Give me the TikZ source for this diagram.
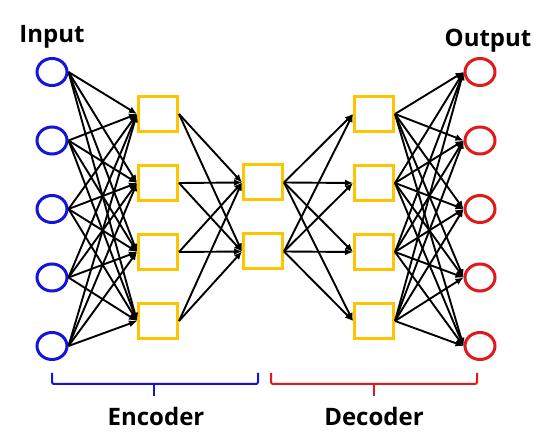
\documentclass[tikz,border=0pt]{standalone}
\usepackage{fontspec}
\setmainfont{Open Sans}
\usetikzlibrary{arrows.meta,shapes.geometric}
\definecolor{inblue}{RGB}{20,20,220}
\definecolor{outred}{RGB}{225,25,25}
\definecolor{hidgold}{RGB}{255,196,0}

\begin{document}
\begin{tikzpicture}[x=1pt,y=-1pt,
  unit/.style={ellipse,draw,line width=3pt,minimum width=30pt,minimum height=27pt,inner sep=0pt},
  hid/.style={rectangle,draw=hidgold,line width=3pt,minimum width=39pt,minimum height=35pt,inner sep=0pt},
  link/.style={-{Latex[length=8pt,width=7pt]},line width=1.9pt},
  lbl/.style={font=\fontsize{24}{28}\selectfont\bfseries,anchor=base,inner sep=0pt}]
  \useasboundingbox (0,0) rectangle (550,438);
  % layers
  \foreach \i/\y in {1/72,2/140.5,3/209,4/277.5,5/346} {
    \node[unit,draw=inblue] (in\i) at (52,\y) {};
    \node[unit,draw=outred] (out\i) at (480,\y) {};
  }
  \foreach \i/\y in {1/114,2/183,3/252,4/321} {
    \node[hid] (enc\i) at (158,\y) {};
    \node[hid] (dec\i) at (374,\y) {};
  }
  \node[hid] (code1) at (263,182.5) {};
  \node[hid] (code2) at (263,251.5) {};
  % connections
  \foreach \a in {1,...,5} \foreach \b in {1,...,4} {
    \draw[link] (in\a.east) -- (enc\b.west);
    \draw[link] (dec\b.east) -- (out\a.west);
  }
  \foreach \a in {1,...,4} \foreach \b in {1,2} {
    \draw[link] (enc\a.east) -- (code\b.west);
    \draw[link] (code\b.east) -- (dec\a.west);
  }
  % labels
  \node[lbl] (inlbl) at (52,43) {Input};
  \node[lbl] (outlbl) at (488,46.5) {Output};
  % braces
  \draw[inblue,line width=2pt,rounded corners=2pt] (52,373) -- (52,384) -- (258,384) -- (258,373);
  \draw[inblue,line width=2pt] (154,384) -- (154,396);
  \draw[outred,line width=2pt,rounded corners=2pt] (271,373) -- (271,384) -- (477,384) -- (477,373);
  \draw[outred,line width=2pt] (374,384) -- (374,396);
  \node[lbl] (enclbl) at (156,425.5) {Encoder};
  \node[lbl] (declbl) at (374,425.5) {Decoder};
\end{tikzpicture}
\end{document}
